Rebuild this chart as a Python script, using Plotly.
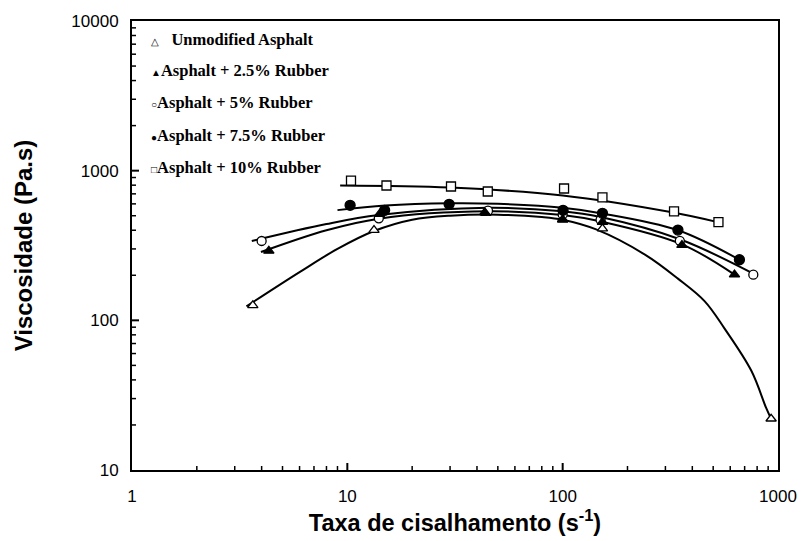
import plotly.graph_objects as go

# ---- data (shear rate s^-1, viscosity Pa.s) ----
unmod_x = [3.64, 13.3, 44, 100, 153, 929]
unmod_y = [126, 401, 520, 470, 410, 22]
r25_x = [4.32, 14.1, 43.5, 100, 153, 358, 628]
r25_y = [291, 512, 527, 473, 453, 318, 202]
r5_x = [4.0, 14, 45, 100, 150, 350, 768]
r5_y = [339, 480, 540, 510, 470, 340, 202]
r75_x = [10.3, 14.9, 29.7, 100.4, 153, 343, 662]
r75_y = [587, 543, 596, 543, 519, 401, 254]
r10_x = [10.4, 15.2, 30.3, 44.9, 101.5, 153, 329, 529]
r10_y = [859, 796, 784, 726, 760, 663, 535, 453]

# fitted curves as drawn in the reference
unmod_cx = [3.4, 6, 9, 13.3, 20, 30, 50, 80, 100, 143, 242, 343, 457, 565, 752, 881, 929]
unmod_cy = [124, 210, 300, 395, 470, 500, 508, 490, 470, 405, 274, 190, 134, 88, 46, 26, 22]
r25_cx = [3.97, 8, 14, 45, 100, 153, 358, 628]
r25_cy = [286, 400, 478, 535, 505, 455, 322, 202]
r5_cx = [3.6, 8, 14, 45, 100, 150, 350, 768]
r5_cy = [339, 440, 505, 565, 535, 490, 348, 205]
r75_cx = [9.0, 15, 30, 50, 100, 150, 343, 662]
r75_cy = [545, 585, 605, 600, 565, 520, 400, 254]
r10_cx = [9.26, 30, 100, 322, 525]
r10_cy = [796, 771, 683, 527, 453]

# axis tick values
x_major = [10, 100]
y_major = [100, 1000]
x_minor = [d * k for d in [1, 10, 100] for k in range(2, 10)]
y_minor = [d * k for d in [10, 100, 1000] for k in range(2, 10)]

legend_labels = ["Unmodified Asphalt", "Asphalt + 2.5% Rubber", "Asphalt + 5% Rubber",
                 "Asphalt + 7.5% Rubber", "Asphalt + 10% Rubber"]
legend_symbols = ["△", "▲", "○", "●", "□"]

fig = go.Figure()

curves = [(unmod_cx, unmod_cy), (r25_cx, r25_cy), (r5_cx, r5_cy), (r75_cx, r75_cy), (r10_cx, r10_cy)]
for cx, cy in curves:
    fig.add_trace(go.Scatter(x=cx, y=cy, mode="lines",
                             line=dict(color="black", width=2, shape="spline", smoothing=1.0),
                             showlegend=False, hoverinfo="skip"))

# (x, y, symbol, size, fill)
series = [
    (unmod_x, unmod_y, "triangle-up", 9, "white"),
    (r5_x, r5_y, "circle", 9, "white"),
    (r10_x, r10_y, "square", 9, "white"),
    (r25_x, r25_y, "triangle-up", 9, "black"),
    (r75_x, r75_y, "circle", 10, "black"),
]
for sx, sy, sym, sz, fill in series:
    fig.add_trace(go.Scatter(
        x=sx, y=sy, mode="markers",
        marker=dict(symbol=sym, size=sz, color=fill, line=dict(color="black", width=1.3)),
        showlegend=False))

# legend drawn as text inside the plot
leg_y = [38, 69, 101, 134, 166]
for i, (lab, sym) in enumerate(zip(legend_labels, legend_symbols)):
    gap = "&nbsp;&nbsp;&nbsp;" if i == 0 else ""
    fig.add_annotation(
        x=0, y=1, xref="paper", yref="paper", xanchor="left", yanchor="middle",
        xshift=17, yshift=-(leg_y[i] - 17) + 3,
        text=f"<span style='font-size:10px'>{sym}</span>{gap}<b>{lab}</b>",
        showarrow=False, font=dict(family="Liberation Serif, Times New Roman, serif", size=16.5, color="black"))

# inward tick marks, placed at axis values (pixel length)
for v, ln, w in [(v, 7, 2) for v in x_major] + [(v, 4, 1.5) for v in x_minor]:
    fig.add_shape(type="line", xref="x", yref="paper", x0=v, x1=v,
                  ysizemode="pixel", yanchor=0, y0=0, y1=ln,
                  line=dict(color="black", width=w), layer="above")
for v, ln, w in [(v, 7, 2) for v in y_major] + [(v, 4, 1.5) for v in y_minor]:
    fig.add_shape(type="line", yref="y", xref="paper", y0=v, y1=v,
                  xsizemode="pixel", xanchor=0, x0=0, x1=ln,
                  line=dict(color="black", width=w), layer="above")

tick_font = dict(family="Arial, Liberation Sans, sans-serif", size=17, color="black")

fig.update_layout(
    xaxis=dict(type="log", range=[0, 3], showline=True, linecolor="black", linewidth=2, mirror=True,
               ticks="", showgrid=False, zeroline=False, dtick=1, tickfont=tick_font, ticklabelstandoff=10,
               title=dict(text="<b>Taxa de cisalhamento (s<sup>-1</sup>)</b>", standoff=6,
                          font=dict(family="Arial, Liberation Sans, sans-serif", size=23.5, color="black"))),
    yaxis=dict(type="log", range=[1, 4], showline=True, linecolor="black", linewidth=2, mirror=True,
               ticks="", showgrid=False, zeroline=False, dtick=1, tickformat="d", tickfont=tick_font,
               ticklabelstandoff=8,
               title=dict(text="<b>Viscosidade (Pa.s)</b>", standoff=32,
                          font=dict(family="Arial, Liberation Sans, sans-serif", size=24, color="black"))),
    width=809, height=541,
    margin=dict(l=132, r=25, t=17, b=71),
    plot_bgcolor="white", paper_bgcolor="white",
)

fig.write_html("out.html")
